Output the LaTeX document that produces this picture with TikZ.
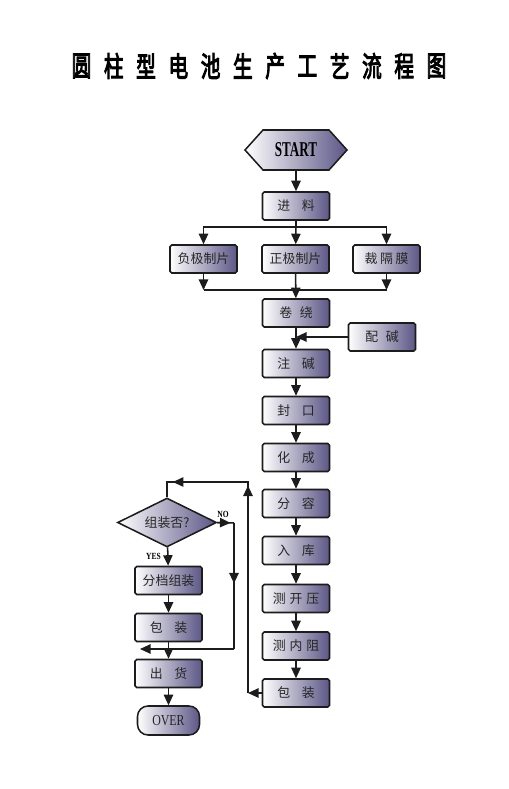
\documentclass[tikz,border=0pt]{standalone}
\usepackage{fontspec}
\newfontfamily\cjk{Noto Sans CJK SC}
\newfontfamily\cjkb{Noto Sans CJK SC}[FakeBold=4]
\newfontfamily\tms{Liberation Serif}
\usetikzlibrary{arrows.meta,shapes.geometric,shapes.symbols,decorations.markings}
\definecolor{boxpurple}{RGB}{92,86,134}
\definecolor{edge}{RGB}{28,28,28}
\begin{document}
\begin{tikzpicture}[x=0.03cm,y=-0.03cm,
  box/.style={draw=edge,line width=1.3pt,rounded corners=1.5pt,left color=white,right color=boxpurple,
    minimum width=2.01cm,minimum height=0.84cm,inner sep=0pt,font=\cjk\fontsize{11}{12}\selectfont,text=black!85},
  arr/.style={-{Triangle[length=9pt,width=8pt]},line width=1.3pt,draw=edge},
  ln/.style={line width=1.3pt,draw=edge},
  midarr/.style={ln,postaction={decorate},decoration={markings,mark=at position #1 with {\arrow{Triangle[length=9pt,width=8pt]}}}}]
\useasboundingbox (0,0) rectangle (509,789);
\foreach \c [count=\i from 0] in {圆,柱,型,电,池,生,产,工,艺,流,程,图}
  \node[font=\cjkb\fontsize{24}{26}\selectfont] (t\i) at ({81.5+32.27*\i},66) {\scalebox{0.7}[1]{\c}};
\node[signal,signal to=west and east,signal pointer angle=96,draw=edge,line width=1.3pt,left color=white,right color=boxpurple,
  minimum width=3.06cm,minimum height=1.2cm,inner sep=0pt,font=\tms\bfseries\fontsize{18}{20}\selectfont] (start) at (296,150) {\scalebox{0.62}[1]{START}};
\node[box] (jl) at (296,206) {进\hspace{0.9em}料};
\node[box] (fj) at (203.5,259) {负极制片};
\node[box] (zj) at (295.5,259) {正极制片};
\node[box] (cgm) at (386.5,259) {裁\hspace{0.2em}隔\hspace{0.2em}膜};
\node[box] (jr) at (296,313) {卷\hspace{0.6em}绕};
\node[box] (pj) at (382,337) {配\hspace{0.6em}碱};
\node[box] (zhj) at (296,363.5) {注\hspace{0.9em}碱};
\node[box] (fk) at (296,410.5) {封\hspace{0.9em}口};
\node[box] (hc) at (296,457.5) {化\hspace{0.9em}成};
\node[box] (fr) at (296,503.5) {分\hspace{0.9em}容};
\node[box] (rk) at (296,550.5) {入\hspace{0.9em}库};
\node[box] (cky) at (296,598.5) {测\hspace{0.3em}开\hspace{0.3em}压};
\node[box] (cnz) at (296,646) {测\hspace{0.3em}内\hspace{0.3em}阻};
\node[box] (bzr) at (296,693) {包\hspace{0.9em}装};
\node[diamond,draw=edge,line width=1.3pt,left color=white,right color=boxpurple,aspect=2,inner sep=0pt,
  minimum width=2.97cm,minimum height=1.47cm,font=\cjk\fontsize{11}{12}\selectfont,text=black!85] (zzf) at (167,522.5) {组装否?};
\node[box] (fd) at (168.5,580.5) {分档组装};
\node[box] (bzl) at (168.5,627.5) {包\hspace{0.9em}装};
\node[box] (ch) at (168.5,673.5) {出\hspace{0.9em}货};
\node[box,rounded corners=9pt,minimum width=1.86cm,minimum height=0.87cm,font=\tms\fontsize{13}{15}\selectfont] (over) at (168.5,720.5) {\scalebox{0.78}[1]{OVER}};
\node[font=\tms\bfseries\fontsize{8}{9}\selectfont] (no) at (223,514.5) {\scalebox{0.8}[1]{NO}};
\node[font=\tms\bfseries\fontsize{8}{9}\selectfont] (yes) at (153.5,556) {\scalebox{0.8}[1]{YES}};
\coordinate (split) at (296,227);
\coordinate (merge) at (296,290);
\draw[arr] (start) -- (jl);
\draw[ln] (jl) -- (split);
\draw[ln] (fj |- split) -- (cgm |- split);
\draw[arr] (split) -| (fj);
\draw[arr] (split) -| (cgm);
\draw[arr] (split) -- (zj);
\draw[ln] (fj |- merge) -- (cgm |- merge);
\draw[arr] (fj) -- (fj |- merge);
\draw[arr] (cgm) -- (cgm |- merge);
\draw[arr] (zj) -- (jr);
\draw[arr] (pj) -- (jr |- pj);
\foreach \a/\b in {jr/zhj,zhj/fk,fk/hc,hc/fr,fr/rk,rk/cky,cky/cnz,cnz/bzr}
  \draw[arr] (\a) -- (\b);
\coordinate (rb) at (248,693);
\coordinate (rt) at (248,482);
\coordinate (lt) at (zzf.north |- rt);
\draw[arr] (bzr) -- (rb);
\draw[ln] (rb) -- (rt) -- (lt) -- (zzf.north);
\draw[arr,shorten >=3pt] (rb) -- (rt);
\draw[arr,shorten >=5pt] (rt) -- (lt);
\coordinate (nr) at (234,523);
\coordinate (nb) at (234,649);
\coordinate (nl) at (140,649);
\draw[ln] (zzf.east) -- (nr);
\draw[arr,shorten >=3pt] (zzf.east) -- (nr);
\draw[midarr=0.48] (nr) -- (nb);
\draw[arr] (nb) -- (nl);
\draw[arr] (zzf) -- (fd);
\draw[arr] (fd) -- (bzl);
\draw[arr] (bzl) -- (ch);
\draw[arr] (ch) -- (over);
\end{tikzpicture}
\end{document}
